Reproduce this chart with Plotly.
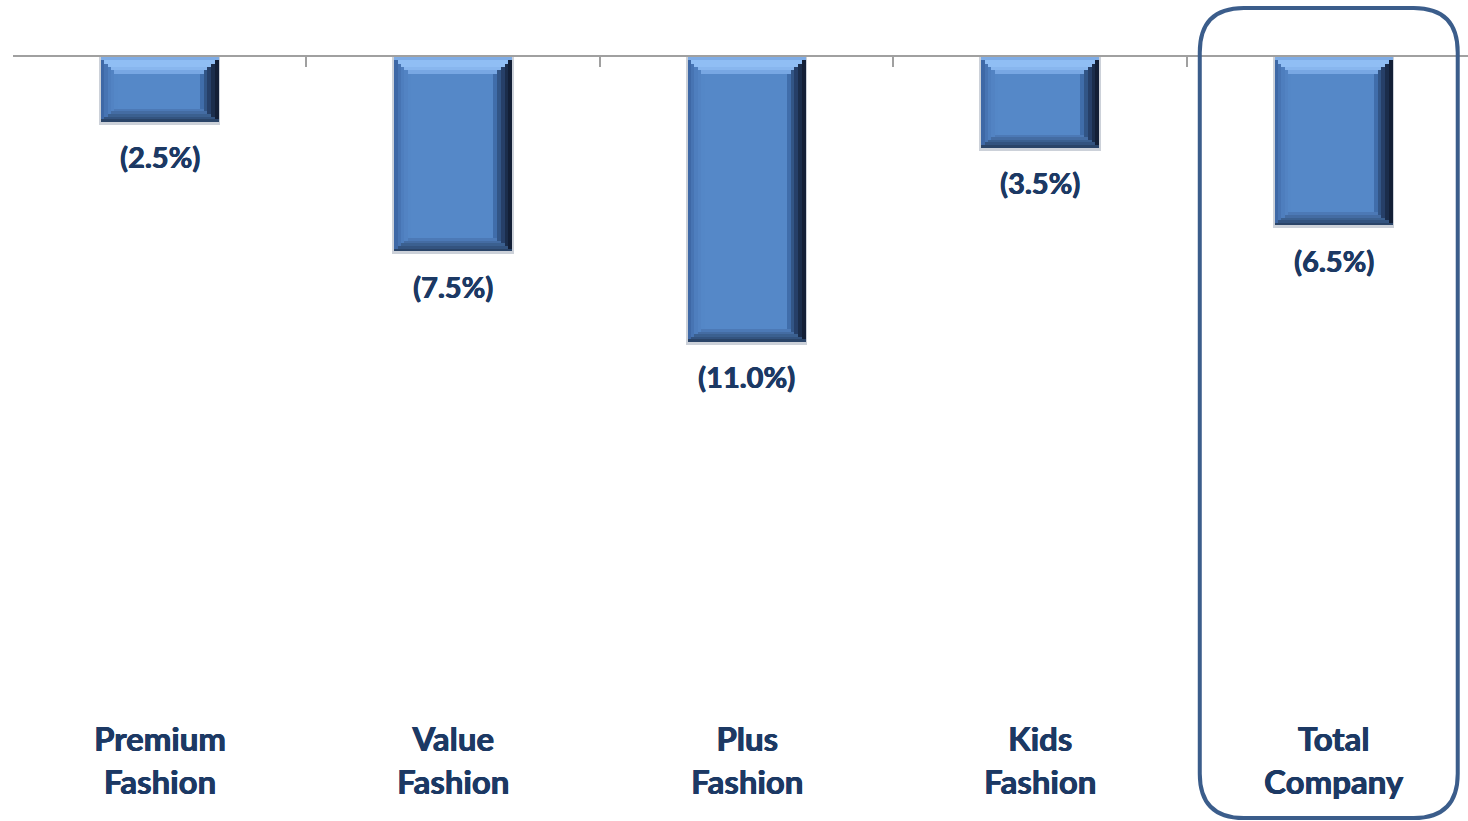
import plotly.graph_objects as go

categories = ["Premium<br>Fashion", "Value<br>Fashion", "Plus<br>Fashion", "Kids<br>Fashion", "Total<br>Company"]
values = [-2.5, -7.5, -11.0, -3.5, -6.5]

keys = [c.replace("<br>", " ") for c in categories]

W = 0.402                  # bar width (category units)
N = 5                      # bevel rings
SL, SR = 0.0115, 0.0128    # per-ring left / right bevel step (category units)
ST, SB = 0.13, 0.10        # per-ring top / bottom bevel step (value units)
XR = [-0.5, 4.458]
YR = [-29.5, 0]

top_cols = ["#7eace6", "#90bef4", "#90bef4", "#88b6ee", "#78a7e3"]
left_cols = ["#3e68a6", "#4774b3", "#4e7ebe", "#5283c3", "#5487c7"]
right_cols = ["#131f36", "#1b2d4b", "#263f68", "#325586", "#406daa"]
bottom_cols = ["#2a4468", "#33537f", "#3b6090", "#446ca3", "#4c79b6"]
face_col = "#5588c8"
shadow_col = "#ccd1d9"

fig = go.Figure()


def layer(color, x_lo, x_hi, y_top, y_bot):
    """Bar spanning category offsets [x_lo, x_hi] and values [y_bot, y_top]."""
    fig.add_trace(go.Bar(
        x=keys, y=[b - t for b, t in zip(y_bot, y_top)], base=y_top,
        offset=x_lo, width=x_hi - x_lo,
        marker=dict(color=color, line=dict(width=0)),
        hoverinfo="skip", showlegend=False))


L, R = -W / 2, W / 2
zeros = [0.0] * len(values)

# soft shadow
layer(shadow_col, L - 0.006, R + 0.006, zeros, [v - 0.12 for v in values])

for k in range(N):
    yt = [-k * ST] * len(values)
    yb = [v + k * SB for v in values]
    xl, xr = L + k * SL, R - k * SR
    layer(left_cols[k], xl, xl + SL, yt, yb)
    layer(right_cols[k], xr - SR, xr, yt, yb)
    layer(top_cols[k], xl, xr, yt, [-(k + 1) * ST] * len(values))
    layer(bottom_cols[k], xl, xr, [v + (k + 1) * SB for v in values], yb)

# face
layer(face_col, L + N * SL, R - N * SR, [-N * ST] * len(values), [v + N * SB for v in values])

txt_color = "#1c3964"
thick = "0.6px 0px 0px #1c3964, -0.3px 0px 0px #1c3964"

for k, v in zip(keys, values):
    fig.add_annotation(x=k, y=v, xref="x", yref="y", text=f"({abs(v):.1f}%)",
                       showarrow=False, yanchor="middle", yshift=-35,
                       font=dict(family="Lato", size=29, color=txt_color, weight="bold",
                                 shadow=thick))

for k, c in zip(keys, categories):
    fig.add_annotation(x=k, y=0.081, xref="x", yref="paper", text=c,
                       showarrow=False, yanchor="middle",
                       font=dict(family="Lato", size=33, color=txt_color, weight="bold",
                                 shadow=thick))

# rounded highlight box around "Total Company"
idx = 4
x0, x1 = idx - 0.456, idx + 0.423
y0, y1 = 0.004, 1.064
rx, ry = 0.15, 0.058
path = (f"M {x0 + rx},{y1} L {x1 - rx},{y1} Q {x1},{y1} {x1},{y1 - ry} "
        f"L {x1},{y0 + ry} Q {x1},{y0} {x1 - rx},{y0} "
        f"L {x0 + rx},{y0} Q {x0},{y0} {x0},{y0 + ry} "
        f"L {x0},{y1 - ry} Q {x0},{y1} {x0 + rx},{y1} Z")
fig.add_shape(type="path", path=path, xref="x", yref="paper",
              line=dict(color="#3b5d8b", width=4), fillcolor="rgba(0,0,0,0)", layer="above")

fig.update_layout(
    width=1468, height=821,
    margin=dict(l=13, r=0, t=57, b=0),
    paper_bgcolor="white", plot_bgcolor="white",
    barmode="overlay", bargap=0,
    xaxis=dict(type="category", side="top", range=XR, showline=True,
               linecolor="#a0a0a0", linewidth=2, ticks="inside", ticklen=10,
               tickcolor="#a0a0a0", tickwidth=2, tickson="boundaries",
               showticklabels=False, showgrid=False, zeroline=False, fixedrange=True),
    yaxis=dict(range=YR, visible=False, showgrid=False, zeroline=False, fixedrange=True),
)

fig.write_html("out.html")
